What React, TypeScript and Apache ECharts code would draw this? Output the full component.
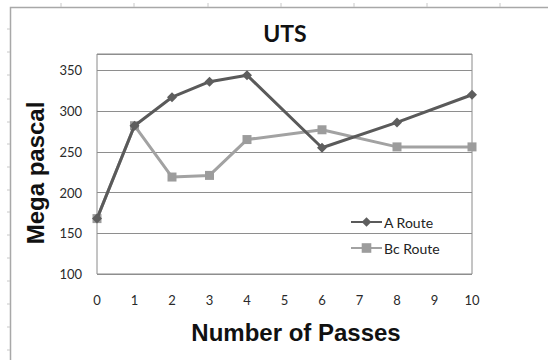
import React, { useEffect, useRef } from "react";
import * as echarts from "echarts";

// Number of passes (x) and ultimate tensile strength in MPa (y)
const passes: number[] = [0, 1, 2, 3, 4, 6, 8, 10];
const aRoute: number[] = [168, 282, 317, 336, 344, 255, 286, 320];
const bcRoute: number[] = [168, 282, 219, 221, 265, 277, 256, 256];
const seriesNames: string[] = ["A Route", "Bc Route"];
const xTicks: number[] = [0, 1, 2, 3, 4, 5, 6, 7, 8, 9, 10];

const pair = (ys: number[]) => passes.map((x, i) => [x, ys[i]]);

// faint spreadsheet cell marks around the chart frame
const topMarks: number[] = [61, 134, 208, 281, 354, 427, 500];
const leftMarks: number[] = [29, 52, 75, 99, 122, 144, 167, 190, 212, 235, 258, 281, 304, 327, 350];

export default function App() {
  const ref = useRef<HTMLDivElement>(null);

  useEffect(() => {
    document.body.style.margin = "0";
    if (!ref.current) return;
    const chart = echarts.init(ref.current, undefined, { renderer: "svg" });

    const graphics: any[] = [
      {
        type: "rect",
        shape: { x: 10.5, y: 7.5, width: 600, height: 400 },
        style: { fill: "none", stroke: "#a8a8a8", lineWidth: 1.5 },
        silent: true,
      },
      ...topMarks.map((x) => ({
        type: "line",
        shape: { x1: x, y1: 3, x2: x, y2: 7 },
        style: { stroke: "#c8c8c8", lineWidth: 1 },
        silent: true,
      })),
      ...leftMarks.map((y) => ({
        type: "line",
        shape: { x1: 7, y1: y, x2: 10, y2: y },
        style: { stroke: "#c8c8c8", lineWidth: 1 },
        silent: true,
      })),
    ];

    chart.setOption({
      animation: false,
      backgroundColor: "#ffffff",
      title: {
        text: "UTS",
        left: 280,
        top: 16,
        textAlign: "center",
        textStyle: { fontFamily: "Lato", fontWeight: "bold", fontSize: 23, color: "#111" },
      },
      graphic: graphics,
      grid: {
        left: 97,
        top: 54,
        right: 76,
        bottom: 86,
        show: true,
        borderColor: "#8a8a8a",
        borderWidth: 1,
        backgroundColor: "transparent",
      },
      legend: {
        orient: "vertical",
        left: 345,
        top: 210,
        itemWidth: 31,
        itemHeight: 12,
        itemGap: 12,
        textStyle: { fontFamily: "Lato", fontSize: 14, color: "#222", padding: [0, 0, 0, -3] },
        data: seriesNames,
      },
      xAxis: {
        type: "value",
        min: 0,
        max: 10,
        interval: 1,
        name: "Number of Passes",
        nameLocation: "middle",
        nameGap: 46,
        nameTextStyle: {
          fontFamily: "Liberation Sans",
          fontWeight: "bold",
          fontSize: 24,
          color: "#111",
          padding: [0, 0, 0, 23],
        },
        axisLine: { show: false },
        axisTick: { show: false },
        splitLine: { show: false },
        axisLabel: {
          margin: 19,
          fontFamily: "Lato",
          fontSize: 13,
          color: "#2a2a2a",
          customValues: xTicks,
        },
      },
      yAxis: {
        type: "value",
        min: 100,
        max: 370,
        interval: 50,
        name: "Mega pascal",
        nameLocation: "middle",
        nameGap: 50,
        nameTextStyle: {
          fontFamily: "Liberation Sans",
          fontWeight: "bold",
          fontSize: 24,
          color: "#111",
          padding: [0, 18, 0, 0],
        },
        axisLine: { show: false },
        axisTick: { show: false },
        splitLine: { lineStyle: { color: "#8e8e8e", width: 1 } },
        axisLabel: {
          margin: 15,
          fontFamily: "Lato",
          fontSize: 13,
          color: "#2a2a2a",
          formatter: (v: number) => (v % 50 === 0 ? String(v) : ""),
        },
      },
      series: [
        {
          name: seriesNames[0],
          type: "line",
          data: pair(aRoute),
          symbol: "diamond",
          symbolSize: 10,
          itemStyle: { color: "#5e5e5e" },
          lineStyle: { color: "#5a5a5a", width: 3 },
          z: 3,
        },
        {
          name: seriesNames[1],
          type: "line",
          data: pair(bcRoute),
          symbol: "rect",
          symbolSize: 9,
          itemStyle: { color: "#9c9c9c" },
          lineStyle: { color: "#a2a2a2", width: 3 },
          z: 2,
        },
      ],
    });

    return () => chart.dispose();
  }, []);

  return <div ref={ref} style={{ width: 548, height: 360 }} />;
}
